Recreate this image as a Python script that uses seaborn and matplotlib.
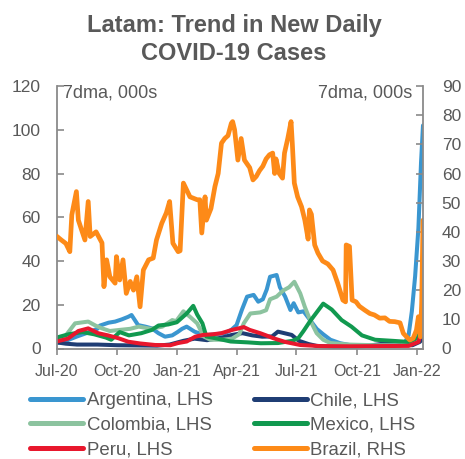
import matplotlib
matplotlib.use("Agg")
import matplotlib.pyplot as plt
import matplotlib.dates as mdates
from matplotlib.lines import Line2D
import pandas as pd
import seaborn as sns

# 7-day moving averages of new daily cases, thousands
argentina_dates = ["2020-07-01", "2020-07-15", "2020-08-01", "2020-08-15", "2020-09-01", "2020-09-05",
                   "2020-09-18", "2020-09-28", "2020-10-08", "2020-10-18", "2020-10-23", "2020-10-28",
                   "2020-11-02", "2020-11-13", "2020-11-23", "2020-12-03", "2020-12-13", "2020-12-24",
                   "2021-01-01", "2021-01-08", "2021-01-15", "2021-01-27", "2021-02-12", "2021-02-27",
                   "2021-03-14", "2021-03-24", "2021-04-01", "2021-04-09", "2021-04-17", "2021-04-27",
                   "2021-05-04", "2021-05-11", "2021-05-17", "2021-05-22", "2021-06-01", "2021-06-06",
                   "2021-06-14", "2021-06-22", "2021-06-27", "2021-07-04", "2021-07-12", "2021-07-22",
                   "2021-08-01", "2021-08-11", "2021-08-22", "2021-09-06", "2021-09-22", "2021-10-22",
                   "2021-11-21", "2021-12-06", "2021-12-14", "2021-12-19", "2021-12-24", "2021-12-29",
                   "2022-01-03", "2022-01-07", "2022-01-10"]
argentina_vals = [2.5, 3.5, 5.5, 7.0, 9.0, 10.5,
                  11.8, 12.3, 13.3, 14.5, 15.3, 13.0,
                  10.7, 10.0, 9.2, 7.0, 5.4, 6.0,
                  7.5, 9.0, 10.0, 7.7, 6.0, 6.5,
                  7.0, 8.5, 10.7, 17.6, 23.7, 24.5,
                  21.4, 22.5, 27.0, 32.8, 33.6, 28.0,
                  23.7, 17.6, 20.7, 16.5, 17.0, 13.0,
                  9.0, 6.5, 4.0, 2.4, 1.5, 1.2,
                  1.5, 2.5, 3.0, 6.0, 17.0, 33.0,
                  55.0, 85.0, 102.0]

chile_dates = ["2020-07-01", "2020-07-15", "2020-08-01", "2020-09-01", "2020-10-01", "2020-11-01",
               "2020-12-01", "2020-12-20", "2021-01-10", "2021-01-27", "2021-02-15", "2021-03-10",
               "2021-03-25", "2021-04-10", "2021-04-25", "2021-05-10", "2021-05-25", "2021-06-03",
               "2021-06-24", "2021-07-05", "2021-07-20", "2021-08-01", "2021-09-01", "2021-10-01",
               "2021-10-20", "2021-11-10", "2021-11-25", "2021-12-10", "2021-12-25", "2022-01-05",
               "2022-01-10"]
chile_vals = [2.8, 2.2, 1.8, 1.8, 1.5, 1.4,
              1.3, 1.8, 3.5, 4.5, 3.8, 5.0,
              6.2, 7.0, 6.0, 5.4, 5.5, 7.7,
              6.2, 3.5, 2.0, 1.2, 0.6, 0.8,
              1.3, 2.2, 2.8, 1.6, 1.5, 3.0,
              4.5]

colombia_dates = ["2020-07-01", "2020-07-15", "2020-07-29", "2020-08-18", "2020-08-29", "2020-09-08",
                  "2020-09-20", "2020-10-05", "2020-10-21", "2020-11-03", "2020-11-21", "2020-12-09",
                  "2020-12-24", "2020-12-30", "2021-01-10", "2021-01-20", "2021-01-31", "2021-02-10",
                  "2021-02-20", "2021-03-10", "2021-03-25", "2021-04-05", "2021-04-12", "2021-04-22",
                  "2021-05-07", "2021-05-16", "2021-05-22", "2021-06-01", "2021-06-11", "2021-06-20",
                  "2021-06-28", "2021-07-07", "2021-07-14", "2021-07-22", "2021-08-01", "2021-08-11",
                  "2021-08-22", "2021-09-19", "2021-10-27", "2021-12-06", "2021-12-21", "2022-01-03",
                  "2022-01-10"]
colombia_vals = [4.0, 6.0, 11.5, 12.3, 10.5, 9.2,
                 8.0, 8.5, 9.0, 10.0, 9.0, 10.0,
                 13.0, 12.5, 17.0, 14.5, 11.5, 5.5,
                 4.0, 4.0, 4.5, 6.5, 11.5, 16.0,
                 16.5, 17.5, 22.5, 23.7, 26.5, 28.0,
                 30.5, 25.2, 19.0, 13.0, 7.0, 4.0,
                 2.5, 1.8, 1.5, 1.5, 2.0, 6.0,
                 21.0]

mexico_dates = ["2020-07-01", "2020-07-19", "2020-08-09", "2020-08-27", "2020-09-14", "2020-09-22",
                "2020-10-05", "2020-10-19", "2020-11-07", "2020-11-23", "2020-12-03", "2020-12-18",
                "2020-12-31", "2021-01-15", "2021-01-25", "2021-01-31", "2021-02-08", "2021-02-14",
                "2021-03-03", "2021-03-23", "2021-04-18", "2021-05-08", "2021-06-03", "2021-06-25",
                "2021-07-04", "2021-07-12", "2021-07-22", "2021-08-01", "2021-08-11", "2021-08-24",
                "2021-09-08", "2021-09-23", "2021-10-09", "2021-10-29", "2021-11-25", "2021-12-19",
                "2022-01-03", "2022-01-06", "2022-01-10"]
mexico_vals = [5.0, 6.5, 7.5, 6.5, 5.0, 4.0,
               7.5, 6.0, 7.0, 8.5, 10.5, 11.0,
               12.0, 16.0, 19.5, 15.5, 11.5, 5.5,
               4.5, 3.2, 2.8, 2.4, 2.5, 3.5,
               4.7, 8.0, 12.5, 16.5, 20.5, 17.8,
               13.0, 10.0, 6.0, 4.0, 3.5, 3.0,
               5.0, 10.0, 16.0]

peru_dates = ["2020-07-01", "2020-07-18", "2020-08-03", "2020-08-18", "2020-09-02", "2020-09-17",
              "2020-10-03", "2020-10-18", "2020-11-05", "2020-11-28", "2020-12-21", "2021-01-02",
              "2021-01-15", "2021-01-28", "2021-02-09", "2021-02-24", "2021-03-09", "2021-03-25",
              "2021-04-04", "2021-04-12", "2021-04-21", "2021-05-07", "2021-05-16", "2021-05-27",
              "2021-06-14", "2021-07-07", "2021-08-06", "2021-09-22", "2021-11-06", "2021-12-19",
              "2022-01-03", "2022-01-06", "2022-01-10"]
peru_vals = [3.2, 4.5, 8.0, 9.2, 7.0, 6.0,
             4.7, 3.1, 2.3, 1.6, 1.5, 2.5,
             3.2, 5.4, 6.2, 6.5, 7.0, 8.5,
             9.2, 9.8, 8.5, 7.0, 6.0, 4.7,
             3.0, 1.6, 1.1, 1.0, 1.1, 1.2,
             3.0, 6.0, 12.0]

brazil_dates = ["2020-07-01", "2020-07-08", "2020-07-15", "2020-07-21", "2020-07-24", "2020-07-31",
                "2020-08-03", "2020-08-13", "2020-08-18", "2020-08-21", "2020-08-30", "2020-09-08",
                "2020-09-11", "2020-09-15", "2020-09-20", "2020-09-28", "2020-09-30", "2020-10-05",
                "2020-10-10", "2020-10-15", "2020-10-21", "2020-10-26", "2020-10-31", "2020-11-05",
                "2020-11-10", "2020-11-18", "2020-11-25", "2020-11-30", "2020-12-08", "2020-12-15",
                "2020-12-20", "2020-12-25", "2021-01-02", "2021-01-05", "2021-01-10", "2021-01-20",
                "2021-01-31", "2021-02-04", "2021-02-07", "2021-02-12", "2021-02-14", "2021-02-21",
                "2021-02-27", "2021-03-04", "2021-03-09", "2021-03-14", "2021-03-19", "2021-03-24",
                "2021-03-26", "2021-03-29", "2021-04-03", "2021-04-08", "2021-04-13", "2021-04-21",
                "2021-04-26", "2021-05-01", "2021-05-06", "2021-05-11", "2021-05-16", "2021-05-21",
                "2021-05-26", "2021-05-29", "2021-05-31", "2021-06-05", "2021-06-10", "2021-06-13",
                "2021-06-18", "2021-06-23", "2021-06-25", "2021-06-28", "2021-07-03", "2021-07-09",
                "2021-07-14", "2021-07-19", "2021-07-21", "2021-07-24", "2021-07-29", "2021-08-03",
                "2021-08-10", "2021-08-18", "2021-08-26", "2021-09-02", "2021-09-10", "2021-09-14",
                "2021-09-15", "2021-09-20", "2021-09-24", "2021-09-30", "2021-10-05", "2021-10-13",
                "2021-10-21", "2021-10-28", "2021-11-05", "2021-11-13", "2021-11-20", "2021-11-28",
                "2021-12-06", "2021-12-11", "2021-12-16", "2021-12-21", "2021-12-26", "2021-12-31",
                "2022-01-03", "2022-01-06", "2022-01-08", "2022-01-10"]
brazil_vals = [38.5, 37.2, 36.0, 33.2, 45.8, 53.8,
               44.0, 37.2, 50.4, 38.4, 40.0, 36.2,
               21.2, 30.4, 24.6, 22.4, 31.5, 23.5,
               30.4, 18.9, 23.0, 20.0, 24.6, 14.3,
               26.9, 30.4, 31.0, 37.2, 42.9, 46.5,
               50.4, 36.1, 33.2, 33.5, 56.7, 52.0,
               51.0, 51.0, 39.6, 52.0, 44.0, 48.0,
               55.5, 60.0, 70.4, 72.0, 73.0, 77.2,
               77.8, 75.0, 64.6, 72.0, 64.6, 62.0,
               57.8, 59.0, 61.0, 62.5, 65.0, 66.4,
               67.0, 60.0, 65.0, 60.0, 58.4, 67.0,
               72.0, 77.8, 70.0, 56.7, 52.0, 48.6,
               44.0, 37.5, 47.5, 46.0, 35.5, 32.7,
               30.0, 29.0, 26.9, 22.4, 16.6, 16.0,
               35.5, 35.0, 16.6, 16.0, 14.5, 13.2,
               12.0, 11.5, 10.4, 10.5, 9.3, 9.2,
               8.8, 5.2, 4.0, 2.9, 3.5, 6.3,
               10.9, 4.0, 15.5, 44.0]

lhs_names = ["Argentina", "Chile", "Colombia", "Mexico", "Peru"]
lhs_dates = [argentina_dates, chile_dates, colombia_dates, mexico_dates, peru_dates]
lhs_vals = [argentina_vals, chile_vals, colombia_vals, mexico_vals, peru_vals]

colors = {
    "Argentina": "#3a96d0",
    "Chile": "#1f3d74",
    "Colombia": "#8cc39f",
    "Mexico": "#11994f",
    "Peru": "#e8172d",
    "Brazil": "#fd8a18",
}

lhs = pd.concat(
    [pd.DataFrame({"date": pd.to_datetime(d), "cases": v, "country": n})
     for n, d, v in zip(lhs_names, lhs_dates, lhs_vals)],
    ignore_index=True,
)
rhs = pd.DataFrame({"date": pd.to_datetime(brazil_dates), "cases": brazil_vals, "country": "Brazil"})

sns.set_theme(style="white")
plt.rcParams["font.family"] = ["Liberation Sans", "DejaVu Sans"]
plt.rcParams["lines.solid_joinstyle"] = "round"
plt.rcParams["lines.solid_capstyle"] = "round"

grey = "#595959"
spine_c = "#8a8a8a"

fig = plt.figure(figsize=(4.65, 4.59), dpi=100)
ax = fig.add_axes([56.7 / 465, 1 - 348.5 / 459, (423 - 56.7) / 465, (348.5 - 86) / 459])

sns.lineplot(data=lhs, x="date", y="cases", hue="country", hue_order=lhs_names,
             palette=colors, estimator=None, linewidth=2.9, legend=False, ax=ax)
ax2 = ax.twinx()
sns.lineplot(data=rhs, x="date", y="cases", color=colors["Brazil"],
             estimator=None, linewidth=3.4, legend=False, ax=ax2)

ax.set_xlim(pd.Timestamp("2020-07-01"), pd.Timestamp("2022-01-10"))
ax.set_ylim(0, 120)
ax2.set_ylim(0, 90)
ax.set_yticks(range(0, 121, 20))
ax2.set_yticks(range(0, 91, 10))
ax.xaxis.set_major_locator(mdates.MonthLocator(bymonth=[1, 4, 7, 10]))
ax.xaxis.set_major_formatter(mdates.DateFormatter("%b-%y"))

for a in (ax, ax2):
    a.set_xlabel("")
    a.set_ylabel("")
    a.spines["top"].set_visible(False)
    for s in a.spines.values():
        s.set_color(spine_c)
        s.set_linewidth(1.3)
ax.spines["right"].set_visible(False)
ax2.spines["left"].set_visible(False)
ax2.spines["bottom"].set_visible(False)

ax.tick_params(axis="y", direction="in", length=5, width=1.2, color=spine_c,
               labelsize=12.5, labelcolor=grey, pad=11.5, left=True)
ax2.tick_params(axis="y", direction="in", length=5, width=1.2, color=spine_c,
                labelsize=12.5, labelcolor=grey, pad=13.5, right=True)
ax.tick_params(axis="x", direction="out", length=4, width=1.2, color=spine_c,
               labelsize=11.5, labelcolor=grey, pad=7, bottom=True)

ax.text(0.017, 0.958, "7dma, 000s", transform=ax.transAxes, fontsize=13,
        color=grey, ha="left", va="baseline")
ax.text(0.970, 0.958, "7dma, 000s", transform=ax.transAxes, fontsize=13,
        color=grey, ha="right", va="baseline")

fig.text(0.503, 1 - 32 / 459, "Latam: Trend in New Daily", fontsize=17, fontweight="bold",
         color=grey, ha="center", va="baseline")
fig.text(0.503, 1 - 60 / 459, "COVID-19 Cases", fontsize=17, fontweight="bold",
         color=grey, ha="center", va="baseline")

legend_labels = ["Argentina, LHS", "Colombia, LHS", "Peru, LHS",
                 "Chile, LHS", "Mexico, LHS", "Brazil, RHS"]
legend_keys = ["Argentina", "Colombia", "Peru", "Chile", "Mexico", "Brazil"]
handles = [Line2D([0], [0], color=colors[k], lw=3.6, solid_capstyle="round") for k in legend_keys]
fig.legend(handles, legend_labels, ncol=2, loc="upper left",
           bbox_to_anchor=(30 / 465, 1 - 392 / 459), frameon=False, fontsize=13.4,
           labelcolor=grey, handlelength=2.85, handletextpad=0.2, columnspacing=2.2,
           labelspacing=0.42, borderpad=0, borderaxespad=0)

fig.savefig("out.png", dpi=100)
